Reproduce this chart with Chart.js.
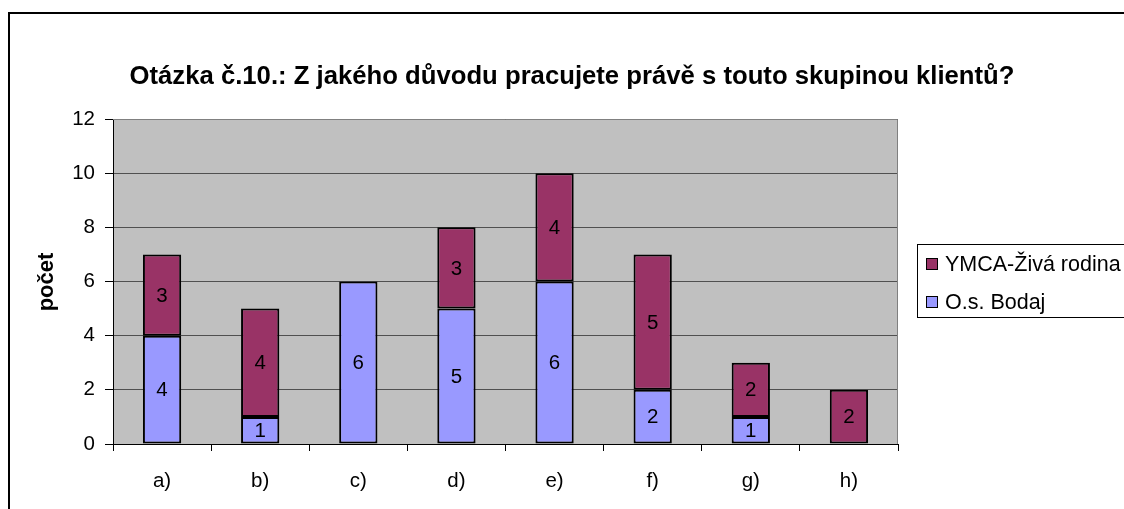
<!DOCTYPE html>
<html><head><meta charset="utf-8">
<script src="https://cdn.jsdelivr.net/npm/chart.js@4.4.0/dist/chart.umd.min.js"></script>
<style>html,body{margin:0;padding:0;background:#fff;}#wrap{width:1124px;height:509px;position:relative;}</style>
</head><body><div id="wrap"><canvas id="c" width="1124" height="509"></canvas></div>
<script>
const categories = ['a)','b)','c)','d)','e)','f)','g)','h)'];
const bodaj = [4,1,6,5,6,2,1,0];
const ymca = [3,4,0,3,4,5,2,2];
const seriesNames = ['O.s. Bodaj','YMCA-Živá rodina'];
const titleText = 'Otázka č.10.: Z jakého důvodu pracujete právě s touto skupinou klientů?';
const yTitle = 'počet';
const FONT = '"Liberation Sans", Arial, sans-serif';
const FS = 20.5;

const decor = {
  id:'decor',
  beforeDraw(chart){
    const {ctx, chartArea:a} = chart;
    ctx.save();
    ctx.fillStyle='#fff'; ctx.fillRect(0,0,chart.width,chart.height);
    ctx.fillStyle='#C0C0C0'; ctx.fillRect(a.left,a.top,a.right-a.left,a.bottom-a.top);
    ctx.restore();
  },
  afterDraw(chart){
    const {ctx, chartArea:a} = chart;
    ctx.save();
    // outer border
    ctx.strokeStyle='#000'; ctx.lineWidth=2;
    ctx.beginPath(); ctx.moveTo(9,520); ctx.lineTo(9,13); ctx.lineTo(1130,13); ctx.stroke();
    // plot top/right border
    ctx.strokeStyle='#808080'; ctx.lineWidth=1;
    ctx.beginPath(); ctx.moveTo(a.left,a.top+0.5); ctx.lineTo(a.right-0.5,a.top+0.5); ctx.lineTo(a.right-0.5,a.bottom); ctx.stroke();
    // title
    ctx.fillStyle='#000'; ctx.font='bold 25.7px '+FONT; ctx.textAlign='center'; ctx.textBaseline='middle';
    ctx.fillText(titleText, 572, 77);
    // y title
    ctx.save(); ctx.translate(47,282); ctx.rotate(-Math.PI/2);
    ctx.font='bold 22px '+FONT; ctx.fillText(yTitle,0,0); ctx.restore();
    // data labels
    ctx.font=FS+'px '+FONT; ctx.textAlign='center'; ctx.textBaseline='middle';
    chart.data.datasets.forEach((ds,i)=>{
      const meta=chart.getDatasetMeta(i);
      meta.data.forEach((el,j)=>{
        if(!ds.data[j]) return;
        const yc=(el.y+el.base)/2;
        ctx.fillText(String(ds.data[j]), el.x, yc+1);
      });
    });
    // legend
    const lx=917, ly=244, lw=215, lh=73;
    ctx.strokeStyle='#000'; ctx.lineWidth=1;
    ctx.strokeRect(lx+0.5,ly+0.5,lw,lh);
    const items=[{ds:1,y:264},{ds:0,y:302}];
    ctx.textAlign='left';
    ctx.font='21.5px '+FONT;
    items.forEach(it=>{
      const ds=chart.data.datasets[it.ds];
      ctx.fillStyle=ds.backgroundColor;
      ctx.fillRect(926,it.y-6,12,12);
      ctx.strokeRect(926.5,it.y-5.5,11,11);
      ctx.fillStyle='#000';
      ctx.fillText(ds.label,945,it.y+1);
    });
    ctx.restore();
  }
};

new Chart(document.getElementById('c'),{
  type:'bar',
  data:{labels:categories,datasets:[
    {label:seriesNames[0],data:bodaj,backgroundColor:'#9999FF',borderColor:'#000',borderWidth:2,borderSkipped:false,barPercentage:0.39,categoryPercentage:1},
    {label:seriesNames[1],data:ymca,backgroundColor:'#993366',borderColor:'#000',borderWidth:2,borderSkipped:false,barPercentage:0.39,categoryPercentage:1}
  ]},
  options:{
    responsive:false,animation:false,devicePixelRatio:1,
    layout:{padding:{left:0,top:119,right:226,bottom:0}},
    plugins:{legend:{display:false},title:{display:false},tooltip:{enabled:false}},
    scales:{
      x:{stacked:true,
        afterFit(s){s.height=65;},
        grid:{display:true,drawOnChartArea:false,drawTicks:true,tickLength:7,tickColor:'#000',offset:true},
        border:{color:'#000',width:1},
        ticks:{color:'#000',font:{family:FONT,size:FS},padding:18}
      },
      y:{stacked:true,min:0,max:12,
        afterFit(s){s.width=113;},
        grid:{color:'#505050',lineWidth:1,tickLength:8,tickColor:'#000'},
        border:{color:'#000',width:1},
        ticks:{stepSize:2,color:'#000',font:{family:FONT,size:FS},padding:10}
      }
    }
  },
  plugins:[decor]
});
</script></body></html>
